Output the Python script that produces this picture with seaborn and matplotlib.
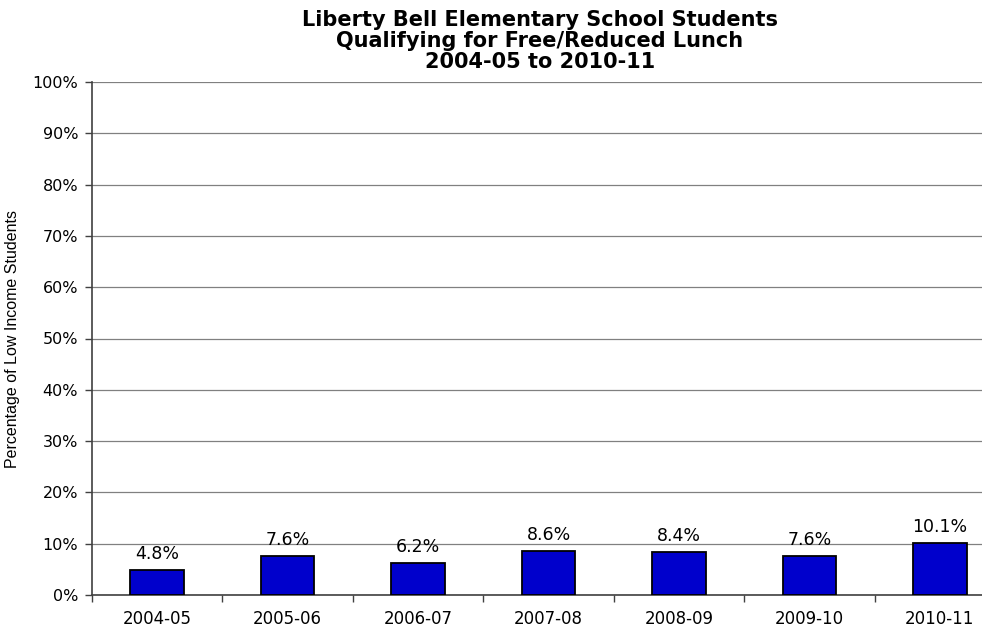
import matplotlib
matplotlib.use("Agg")
import matplotlib.pyplot as plt
import seaborn as sns
import pandas as pd
from matplotlib.ticker import FixedLocator, PercentFormatter

years = ["2004-05", "2005-06", "2006-07", "2007-08", "2008-09", "2009-10", "2010-11"]
values = [4.8, 7.6, 6.2, 8.6, 8.4, 7.6, 10.1]
labels = ["4.8%", "7.6%", "6.2%", "8.6%", "8.4%", "7.6%", "10.1%"]

sns.set_theme(style="white")
plt.rcParams['font.family'] = ['DejaVu Sans']
plt.rcParams['text.color'] = 'black'
plt.rcParams['axes.labelcolor'] = 'black'

df = pd.DataFrame({"year": years, "value": values})

fig = plt.figure(figsize=(9.82, 6.33), dpi=100)
ax = fig.add_axes([92/982, 38/633, 913/982, 513/633])

sns.barplot(data=df, x="year", y="value", color="#0000CC", saturation=1,
            width=0.41, edgecolor="black", linewidth=1.3, ax=ax, zorder=3)

ax.set_ylim(0, 100)
ax.set_xlim(-0.5, len(years) - 0.5)
ax.set_yticks(range(0, 101, 10))
ax.yaxis.set_major_formatter(PercentFormatter(decimals=0))
ax.yaxis.grid(True, color="#808080", linewidth=0.9, zorder=0)
ax.set_axisbelow(True)

for i, (v, lab) in enumerate(zip(values, labels)):
    ax.annotate(lab, (i, v), xytext=(0, 5), textcoords="offset points",
                ha="center", va="bottom", fontsize=12.5, color="black")

ax.tick_params(axis="x", which="major", length=0, labelsize=12, pad=11, colors="black")
ax.xaxis.set_minor_locator(FixedLocator([i + 0.5 for i in range(-1, len(years))]))
ax.tick_params(axis="x", which="minor", length=5, width=1, color="#404040", direction="out", bottom=True)
ax.tick_params(axis="y", which="major", length=5, width=1, color="#404040", direction="out", left=True,
               labelsize=11.5, pad=5, labelcolor="black")

for s in ["top", "right"]:
    ax.spines[s].set_visible(False)
for s in ["left", "bottom"]:
    ax.spines[s].set_color("#404040")
    ax.spines[s].set_linewidth(1.2)

ax.set_xlabel("")
ax.set_ylabel("Percentage of Low Income Students", fontsize=11.5, labelpad=4, color="black",
              family=['Liberation Sans', 'DejaVu Sans'])
ax.yaxis.set_label_coords(-72/913, 0.5)

for txt, y in [("Liberty Bell Elementary School Students", 20),
               ("Qualifying for Free/Reduced Lunch", 41),
               ("2004-05 to 2010-11", 62)]:
    fig.text(540/982, 1 - y/633, txt, ha="center", va="center",
             fontsize=15, fontweight="bold", color="black")

fig.savefig("out.png", dpi=100)
